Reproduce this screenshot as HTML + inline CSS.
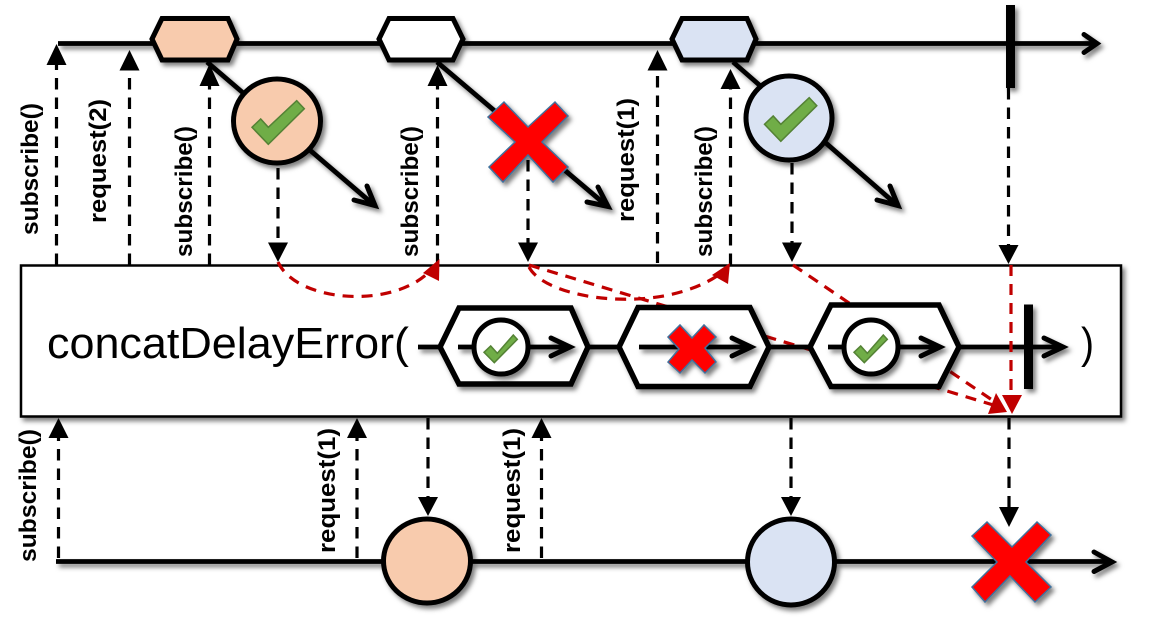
<!DOCTYPE html>
<html>
<head>
<meta charset="utf-8">
<style>
html,body{margin:0;padding:0;background:#fff;width:1149px;height:620px;overflow:hidden}
svg{display:block}
text{font-family:"Liberation Sans",sans-serif;fill:#000}
.l{font-weight:bold;font-size:24px}
.d{stroke:#000;stroke-width:3.200;stroke-dasharray:11.500 8;fill:none}
.r{stroke:#c00000;stroke-width:3.200;stroke-dasharray:11 8;fill:none}
.s{stroke:#000;stroke-width:4.800;fill:none}
.c{stroke:#000;stroke-width:5;fill:none;stroke-linecap:round;stroke-linejoin:miter}
.h{stroke:#000;stroke-width:5;stroke-linejoin:miter}
.i{stroke:#000;stroke-width:5.500;stroke-linejoin:miter;fill:#fff}
.x{fill:#f00;stroke:#41719c;stroke-width:1.500}
.k{fill:#70ad47;stroke:#548235;stroke-width:1.500}
</style>
</head>
<body>
<svg width="1149" height="620" viewBox="0 0 1149 620" xmlns="http://www.w3.org/2000/svg">
<defs>
<filter id="shl" filterUnits="userSpaceOnUse" x="0" y="0" width="1149" height="620">
<feDropShadow dx="3" dy="3.500" stdDeviation="2.500" flood-color="#000" flood-opacity="0.5"/>
</filter>
</defs>

<!-- central box -->
<rect x="21" y="265.500" width="1100" height="151" fill="#fff" stroke="#000" stroke-width="2.500" filter="url(#shl)"/>

<!-- top timeline -->
<g filter="url(#shl)">
<path class="s" d="M58 43.500H1096"/>
<path class="c" d="M1084 34.500L1097 43.500L1084 52.500"/>
<path class="s" d="M207 62L374 205"/>
<path class="c" d="M367 186L375 205.500L354 200"/>
<path class="s" d="M437 62L607 206"/>
<path class="c" d="M598 187L608 206.500L587 202"/>
<path class="s" d="M733 62L897 205"/>
<path class="c" d="M890 186L898 205.500L877 200"/>
<polygon class="h" fill="#f8cbad" points="152,39 162,18.500 228,18.500 237,39 228,60 162,60"/>
<polygon class="h" fill="#fff" points="379,39 389,18.500 453,18.500 463,39 453,60 389,60"/>
<polygon class="h" fill="#dae3f3" points="672,39 682,18.500 747,18.500 756,39 747,60 682,60"/>
<rect x="1006" y="5" width="9" height="83" fill="#000"/>
</g>

<!-- top circles and crosses -->
<g filter="url(#shl)">
<ellipse cx="277" cy="121" rx="43.500" ry="42" fill="#f8cbad" stroke="#000" stroke-width="5"/>
<ellipse cx="789" cy="118" rx="43" ry="42" fill="#dae3f3" stroke="#000" stroke-width="5"/>
<polygon class="x" points="488,117 504,102 528,127 555,102 568,116 542,142 568,167 553,182 528,155 503,182 489,167 515,142"/>
</g>
<polygon class="k" points="252,127.300 260.700,119 268.300,127.300 296.700,100.700 304.300,108.700 268.300,144.300"/>
<polygon class="k" points="764.500,124.300 773.200,116 780.800,124.300 809.200,97.700 816.800,105.700 780.800,141.300"/>

<!-- dashed up arrows top -->
<path class="d" d="M56.500 265V62"/><polygon points="46.500,65 66.500,65 56.500,44"/>
<path class="d" d="M129.500 265V68"/><polygon points="119.500,70.500 139.500,70.500 129.500,50"/>
<path class="d" d="M209.500 265V84"/><polygon points="199.500,86 219.500,86 209.500,64"/>
<path class="d" d="M437.500 265V84"/><polygon points="427.500,86 447.500,86 437.500,65"/>
<path class="d" d="M657.500 263V68"/><polygon points="647.500,70.500 667.500,70.500 657.500,50"/>
<path class="d" d="M730.500 265V87"/><polygon points="720.500,89 740.500,89 730.500,69"/>

<!-- dashed down arrows top -->
<path class="d" d="M278 168V244"/><polygon points="268,242.500 288,242.500 278,262"/>
<path class="d" d="M528 160V244"/><polygon points="518,242.500 538,242.500 528,262"/>
<path class="d" d="M792 163V244"/><polygon points="782,242.500 802,242.500 792,262"/>
<path class="d" d="M1008.500 88V246"/><polygon points="998.500,245 1018.500,245 1008.500,264"/>

<!-- red routing under inner hexes -->
<path class="r" d="M278 262C296 302 392 310 430 271"/>
<path class="r" d="M529 267C546 300 660 316 720 274"/>
<path class="r" d="M529 265L1000 407"/>
<path class="r" d="M793 265L998 404"/>

<!-- inner marble -->
<g filter="url(#shl)">
<path class="s" d="M418 347H440"/>
<path class="s" d="M588 347H620"/>
<path class="s" d="M769 347H810"/>
<polygon class="i" points="440,347 459,308 571,308 588,347 571,384 459,384"/>
<polygon class="i" points="619,347 638,307.500 750,307.500 769,347 750,386.500 638,386.500"/>
<polygon class="i" points="810,347 831,305 939,305 959,347 939,386.500 831,386.500"/>
<path class="s" d="M959 347H1062"/>
<path class="c" d="M1044 338L1063 347L1044 356"/>
<rect x="1024" y="304.500" width="9" height="84.500" fill="#000"/>
</g>
<g filter="url(#shl)">
<path class="s" d="M458 347H567"/><path class="c" d="M551 338L570 347L551 356"/>
<path class="s" d="M639 347H748"/><path class="c" d="M732 338L751 347L732 356"/>
<path class="s" d="M828 347H937"/><path class="c" d="M921 338L940 347L921 356"/>
<circle cx="501" cy="347" r="27" fill="#fff" stroke="#000" stroke-width="5"/>
<circle cx="871" cy="347" r="27" fill="#fff" stroke="#000" stroke-width="5"/>
<polygon class="x" points="668,337 680,325 692,338 704,325 716,337 705,348 716,362 705,373 692,360 680,373 668,362 679,349"/>
</g>
<polygon class="k" points="484,352.300 490.700,346 497.300,353.300 513.300,335 517.300,339.300 494.300,362.700"/>
<polygon class="k" points="854,352.300 860.700,346 867.300,353.300 883.300,335 887.300,339.300 864.300,362.700"/>

<!-- red overlays -->
<path class="r" d="M1011 265V397"/>
<polygon fill="#c00000" points="439.500,259 439,281 423,273"/>
<polygon fill="#c00000" points="730,263 728,284 712,275"/>
<polygon fill="#c00000" points="1007,412 988,414 996,393"/>
<polygon fill="#c00000" points="1002,395 1022,395 1012,414"/>

<!-- labels -->
<text class="l" transform="translate(38,235) rotate(-90)" textLength="132" lengthAdjust="spacingAndGlyphs">subscribe()</text>
<text class="l" transform="translate(106,223) rotate(-90)" textLength="124" lengthAdjust="spacingAndGlyphs">request(2)</text>
<text class="l" transform="translate(192,257) rotate(-90)" textLength="131" lengthAdjust="spacingAndGlyphs">subscribe()</text>
<text class="l" transform="translate(418,257) rotate(-90)" textLength="131" lengthAdjust="spacingAndGlyphs">subscribe()</text>
<text class="l" transform="translate(634,222) rotate(-90)" textLength="124" lengthAdjust="spacingAndGlyphs">request(1)</text>
<text class="l" transform="translate(712,257) rotate(-90)" textLength="131" lengthAdjust="spacingAndGlyphs">subscribe()</text>
<text class="l" transform="translate(36,562) rotate(-90)" textLength="133" lengthAdjust="spacingAndGlyphs">subscribe()</text>
<text class="l" transform="translate(335,553) rotate(-90)" textLength="125" lengthAdjust="spacingAndGlyphs">request(1)</text>
<text class="l" transform="translate(520,553) rotate(-90)" textLength="125" lengthAdjust="spacingAndGlyphs">request(1)</text>

<text x="47" y="358" font-size="44" textLength="362" lengthAdjust="spacingAndGlyphs">concatDelayError(</text>
<text x="1081" y="358" font-size="44" textLength="13" lengthAdjust="spacingAndGlyphs">)</text>

<!-- bottom timeline -->
<g filter="url(#shl)">
<path class="s" d="M56 561.500H1110"/>
<path class="c" d="M1094 552L1112 562L1094 571.500"/>
<ellipse cx="427" cy="561" rx="43.500" ry="42" fill="#f8cbad" stroke="#000" stroke-width="5"/>
<ellipse cx="791" cy="562" rx="43.500" ry="43" fill="#dae3f3" stroke="#000" stroke-width="5"/>
<polygon class="x" points="972,536 987,522 1012,547 1037,522 1051,535 1026,562 1051,587 1035,602 1010,576 985,602 972,587 997,562"/>
</g>

<!-- bottom dashed -->
<path class="d" d="M58.500 558V436"/><polygon points="48.500,438 68.500,438 58.500,418"/>
<path class="d" d="M357 558V436"/><polygon points="347,438 367,438 357,418"/>
<path class="d" d="M541.500 558V436"/><polygon points="531.500,438 551.500,438 541.500,418"/>
<path class="d" d="M428 418V498"/><polygon points="418,497 438,497 428,516"/>
<path class="d" d="M791 418V498"/><polygon points="781,497 801,497 791,516"/>
<path class="d" d="M1009 418V508"/><polygon points="999,507 1019,507 1009,527"/>
</svg>
</body>
</html>
